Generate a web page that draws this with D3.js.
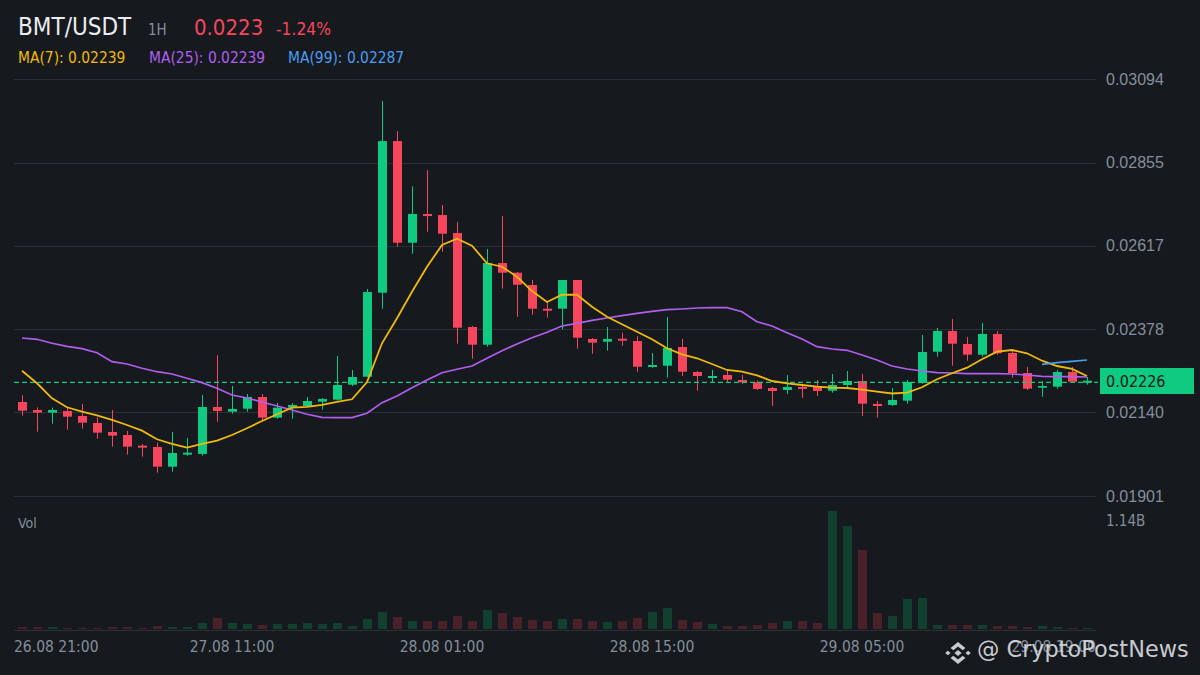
<!DOCTYPE html>
<html>
<head>
<meta charset="UTF-8">
<script src="https://cdn.jsdelivr.net/npm/d3@7/dist/d3.min.js"></script>
<style>
  body { margin: 0; background: #161a1e; }
  svg { display: block; font-family: "DejaVu Sans Condensed", "DejaVu Sans", sans-serif; }
</style>
</head>
<body>
<svg id="chart" width="1200" height="675"></svg>
<script>
// BMT/USDT 1H candles, 26.08 21:00 .. 29.08 20:00
var open = [0.021700,0.021471,0.021394,0.021442,0.021299,0.021099,0.020842,0.020756,0.020450,0.020413,
  0.019849,0.020193,0.020213,0.021557,0.021422,0.021508,0.021843,0.021251,0.021537,0.021585,
  0.021708,0.021766,0.022195,0.022423,0.024826,0.029164,0.026256,0.027077,0.027048,0.026533,
  0.023845,0.023339,0.025675,0.025398,0.025046,0.024368,0.024368,0.025189,0.023502,0.023424,
  0.023510,0.023444,0.022701,0.022738,0.023273,0.022558,0.022386,0.022472,0.022329,0.022263,
  0.022100,0.022043,0.022129,0.022157,0.022023,0.022186,0.022300,0.021643,0.021614,0.021737,
  0.022243,0.023138,0.023730,0.023359,0.023053,0.023645,0.023101,0.022529,0.022109,0.022137,
  0.022558,0.022252];
var high = [0.021900,0.021548,0.021537,0.021537,0.021643,0.021262,0.021471,0.020870,0.020499,0.020536,
  0.020842,0.020670,0.021900,0.023044,0.022157,0.021929,0.021929,0.021671,0.021671,0.021843,
  0.021814,0.023015,0.022615,0.024932,0.030308,0.029450,0.027869,0.028335,0.027334,0.026848,
  0.023873,0.026076,0.027019,0.025418,0.025189,0.024551,0.025189,0.025189,0.023530,0.023845,
  0.023682,0.023579,0.023101,0.024131,0.023502,0.022586,0.022615,0.022615,0.022472,0.022309,
  0.022129,0.022472,0.022215,0.022329,0.022501,0.022586,0.022501,0.021728,0.022100,0.022329,
  0.023616,0.023816,0.024074,0.023559,0.023959,0.023730,0.023158,0.022701,0.022300,0.022615,
  0.022701,0.022415];
var low = [0.021308,0.020850,0.021079,0.020908,0.020936,0.020650,0.020421,0.020193,0.020135,0.019678,
  0.019706,0.020164,0.020164,0.021136,0.021365,0.021422,0.021185,0.021222,0.021222,0.021557,
  0.021480,0.021737,0.022157,0.022423,0.024368,0.026142,0.025941,0.026570,0.025998,0.023367,
  0.022938,0.023281,0.024940,0.024139,0.024197,0.024111,0.023779,0.023224,0.023081,0.023167,
  0.023310,0.022566,0.022681,0.022395,0.022443,0.022023,0.022272,0.022272,0.022215,0.022043,
  0.021585,0.021929,0.021814,0.021871,0.021966,0.022129,0.021299,0.021251,0.021585,0.021651,
  0.022223,0.022995,0.022738,0.022881,0.022995,0.023053,0.022395,0.022043,0.021851,0.022080,
  0.022272,0.022195];
var close = [0.021451,0.021394,0.021471,0.021279,0.021108,0.020822,0.020736,0.020421,0.020393,0.019849,
  0.020241,0.020250,0.021557,0.021442,0.021500,0.021843,0.021251,0.021537,0.021614,0.021728,
  0.021786,0.022186,0.022415,0.024846,0.029164,0.026256,0.027077,0.027019,0.026513,0.023825,
  0.023339,0.025675,0.025398,0.025055,0.024368,0.024311,0.025189,0.023539,0.023396,0.023502,
  0.023453,0.022709,0.022758,0.023244,0.022566,0.022443,0.022443,0.022338,0.022263,0.022072,
  0.022014,0.022129,0.022072,0.022014,0.022186,0.022300,0.021651,0.021585,0.021757,0.022272,
  0.023130,0.023730,0.023367,0.023053,0.023645,0.023093,0.022529,0.022080,0.022157,0.022558,
  0.022280,0.022309];
// volume in millions
var volume = [19,19,19,10,10,10,19,19,10,29,
  19,19,58,106,58,48,39,48,48,58,
  48,58,29,97,164,116,77,77,77,126,
  77,184,155,116,87,77,97,97,77,68,
  77,106,164,203,87,68,48,29,29,39,
  58,77,77,58,1140,995,763,155,126,290,
  299,39,39,39,39,29,29,19,29,19,
  10,10];
var ma7 = [0.022595,0.022235,0.021806,0.021548,0.021422,0.021319,0.021185,0.021042,0.020879,0.020633,
  0.020499,0.020393,0.020499,0.020593,0.020756,0.020948,0.021156,0.021348,0.021537,0.021557,
  0.021614,0.021700,0.021777,0.022272,0.023379,0.024094,0.024854,0.025569,0.026190,0.026370,
  0.026170,0.025667,0.025569,0.025283,0.024874,0.024560,0.024768,0.024768,0.024425,0.024139,
  0.023922,0.023710,0.023493,0.023236,0.023064,0.022950,0.022787,0.022615,0.022566,0.022463,
  0.022300,0.022235,0.022186,0.022137,0.022109,0.022100,0.022052,0.021994,0.021943,0.021966,
  0.022120,0.022349,0.022521,0.022681,0.022921,0.023138,0.023187,0.023093,0.022881,0.022729,
  0.022644,0.022443];
var ma25 = [0.023530,0.023493,0.023379,0.023293,0.023224,0.023110,0.022852,0.022787,0.022664,0.022566,
  0.022501,0.022378,0.022252,0.022092,0.021900,0.021814,0.021700,0.021585,0.021471,0.021348,
  0.021262,0.021251,0.021251,0.021377,0.021680,0.021871,0.022109,0.022329,0.022538,0.022635,
  0.022729,0.022950,0.023167,0.023359,0.023539,0.023693,0.023873,0.023951,0.024036,0.024102,
  0.024168,0.024237,0.024294,0.024340,0.024360,0.024389,0.024397,0.024397,0.024283,0.023996,
  0.023873,0.023682,0.023502,0.023282,0.023216,0.023178,0.023044,0.022901,0.022729,0.022644,
  0.022586,0.022538,0.022529,0.022509,0.022509,0.022509,0.022501,0.022472,0.022435,0.022423,
  0.022423,0.022415];
// MA(99) only drawn for the last candles
var ma99Start = 68;
var ma99 = [0.022778,0.022824,0.022864,0.022901];

var priceTicks = [0.01901, 0.02140, 0.02378, 0.02617, 0.02855, 0.03094];
var timeTickIdx = [0, 14, 28, 42, 56, 70];
var timeTickLabels = ["26.08 21:00", "27.08 11:00", "28.08 01:00", "28.08 15:00", "29.08 05:00", "29.08 19:00"];
var lastPrice = 0.02226;
var volMax = 1140;

var UP = "#0ecb81", DOWN = "#f6465d", GRID = "#2b2f36", AXIS = "#848e9c";

var svg = d3.select("#chart");
svg.append("rect").attr("width", 1200).attr("height", 675).attr("fill", "#161a1e");

var plotL = 14, plotR = 1096;
var idx = d3.range(open.length);

var x = d3.scaleBand().domain(idx).range([14.5, 1094.5]).paddingInner(0.4).paddingOuter(0.2);
var cx = i => x(i) + x.bandwidth() / 2;
var bodyX = i => Math.round(cx(i)) - 4;
var y = d3.scaleLinear().domain([0.01901, 0.03094]).range([496, 79]);
var yv = d3.scaleLinear().domain([0, volMax]).range([629, 511]);

// price axis + grid
var yAxis = svg.append("g")
  .attr("transform", `translate(${plotR},0)`)
  .call(d3.axisRight(y).tickValues(priceTicks).tickFormat(d3.format(".5f")).tickSize(0).tickPadding(10));
yAxis.select(".domain").remove();
yAxis.selectAll("text").attr("fill", AXIS).attr("font-size", 16).attr("font-family", null);

svg.append("g").selectAll("line")
  .data(priceTicks)
  .join("line")
  .attr("x1", plotL).attr("x2", plotR)
  .attr("y1", d => Math.round(y(d)) + 0.5).attr("y2", d => Math.round(y(d)) + 0.5)
  .attr("stroke", GRID);

// volume pane
svg.append("line").attr("x1", plotL).attr("x2", plotR).attr("y1", 630.5).attr("y2", 630.5).attr("stroke", GRID);
svg.append("g").selectAll("rect")
  .data(idx)
  .join("rect")
  .attr("x", bodyX)
  .attr("width", x.bandwidth())
  .attr("y", i => yv(volume[i]))
  .attr("height", i => yv(0) - yv(volume[i]))
  .attr("fill", i => close[i] >= open[i] ? "#12402f" : "#4a2129");

svg.append("text").attr("x", 18).attr("y", 528).attr("fill", AXIS).attr("font-size", 14).text("Vol");
svg.append("text").attr("x", 1106).attr("y", 521).attr("dominant-baseline", "central")
  .attr("fill", AXIS).attr("font-size", 15).text("1.14B");

// candles
var candles = svg.append("g").selectAll("g")
  .data(idx)
  .join("g")
  .attr("fill", i => close[i] >= open[i] ? UP : DOWN)
  .attr("stroke", i => close[i] >= open[i] ? UP : DOWN);

candles.append("line")
  .attr("x1", i => Math.round(cx(i)) + 0.5).attr("x2", i => Math.round(cx(i)) + 0.5)
  .attr("y1", i => y(high[i])).attr("y2", i => y(low[i]))
  .attr("stroke-width", 1);

candles.append("rect")
  .attr("stroke", "none")
  .attr("x", bodyX)
  .attr("width", x.bandwidth())
  .attr("y", i => y(Math.max(open[i], close[i])))
  .attr("height", i => Math.max(1.5, y(Math.min(open[i], close[i])) - y(Math.max(open[i], close[i]))));

// last price dashed line
svg.append("line")
  .attr("x1", plotL).attr("x2", 1098)
  .attr("y1", y(lastPrice)).attr("y2", y(lastPrice))
  .attr("stroke", UP).attr("stroke-width", 1.2).attr("stroke-dasharray", "5,3");

// moving averages
var line = d3.line().x(d => cx(d[0])).y(d => y(d[1]));
svg.append("path").datum(ma25.map((v, i) => [i, v]))
  .attr("d", line).attr("fill", "none").attr("stroke", "#b15ef0").attr("stroke-width", 1.7);
svg.append("path").datum(ma7.map((v, i) => [i, v]))
  .attr("d", line).attr("fill", "none").attr("stroke", "#f0b90b").attr("stroke-width", 1.8);
svg.append("path").datum(ma99.map((v, i) => [i + ma99Start, v]))
  .attr("d", line).attr("fill", "none").attr("stroke", "#4a9cf0").attr("stroke-width", 1.7);

// last price tag
svg.append("rect").attr("x", 1100).attr("y", 368).attr("width", 94).attr("height", 26).attr("fill", UP);
svg.append("text").attr("x", 1106).attr("y", 381).attr("dominant-baseline", "central")
  .attr("fill", "#12161a").attr("font-size", 16).text(d3.format(".5f")(lastPrice));

// time axis labels (clamped to the plot edges)
svg.append("g").selectAll("text")
  .data(timeTickIdx)
  .join("text")
  .attr("y", 647)
  .attr("dominant-baseline", "central")
  .attr("fill", AXIS)
  .attr("font-size", 15.5)
  .text((d, k) => timeTickLabels[k])
  .each(function(d) {
    var t = d3.select(this), w = this.getComputedTextLength(), px = cx(d);
    if (px - w / 2 < plotL) t.attr("x", plotL).attr("text-anchor", "start");
    else if (px + w / 2 > plotR) t.attr("x", plotR).attr("text-anchor", "end");
    else t.attr("x", px).attr("text-anchor", "middle");
  });

// header
var head = svg.append("g");
head.append("text").attr("x", 18).attr("y", 35).attr("font-size", 24).attr("fill", "#eaecef").text("BMT/USDT");
head.append("text").attr("x", 148).attr("y", 35).attr("font-size", 15).attr("fill", AXIS).text("1H");
head.append("text").attr("x", 194).attr("y", 35).attr("font-size", 22).attr("fill", DOWN).text("0.0223");
head.append("text").attr("x", 276).attr("y", 35).attr("font-size", 17.3).attr("fill", DOWN).text("-1.24%");
head.append("text").attr("x", 18).attr("y", 63).attr("font-size", 15.4).attr("fill", "#f0b90b").text("MA(7): 0.02239");
head.append("text").attr("x", 149).attr("y", 63).attr("font-size", 15.4).attr("fill", "#b15ef0").text("MA(25): 0.02239");
head.append("text").attr("x", 288).attr("y", 63).attr("font-size", 15.4).attr("fill", "#4a9cf0").text("MA(99): 0.02287");

// watermark
var wm = svg.append("g").attr("fill", "#d6d9de").attr("opacity", 0.92);
var logo = wm.append("g").attr("transform", "translate(958,653) scale(13.5,11)");
logo.append("polygon").attr("points", "0,-0.27 0.27,0 0,0.27 -0.27,0");
logo.append("polygon").attr("points", "-0.75,-0.2 -0.55,0 -0.75,0.2 -0.95,0");
logo.append("polygon").attr("points", "0.75,-0.2 0.95,0 0.75,0.2 0.55,0");
logo.append("polygon").attr("points", "0,-1 0.55,-0.45 0.35,-0.25 0,-0.6 -0.35,-0.25 -0.55,-0.45");
logo.append("polygon").attr("points", "0,1 0.55,0.45 0.35,0.25 0,0.6 -0.35,0.25 -0.55,0.45");
wm.append("text").attr("x", 977).attr("y", 657).attr("font-family", "DejaVu Sans")
  .attr("font-size", 22.4).text("@ CryptoPostNews");
</script>
</body>
</html>
